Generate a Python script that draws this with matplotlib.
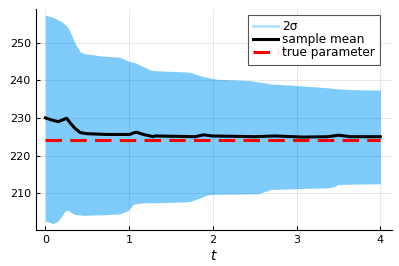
import matplotlib
matplotlib.use("Agg")
import matplotlib.pyplot as plt

# band edges (2 sigma)
band_t = [0.0, 0.096, 0.155, 0.196, 0.235, 0.255, 0.275, 0.295, 0.355, 0.415, 0.455,
          0.475, 0.57, 0.65, 0.89, 0.99, 1.05, 1.09, 1.13, 1.17, 1.27, 1.45, 1.69,
          1.73, 1.85, 1.93, 2.01, 2.03, 2.45, 2.53, 2.65, 2.69, 3.01, 3.37, 3.45,
          3.49, 3.69, 4.0]
band_upper = [257.3, 256.7, 256.0, 255.6, 254.8, 254.4, 253.8, 252.9, 249.8, 247.6, 247.2,
              247.0, 246.8, 246.5, 246.1, 245.1, 244.8, 244.5, 244.0, 243.6, 242.6, 242.4, 242.2,
              242.1, 241.2, 240.8, 240.4, 240.3, 239.9, 239.6, 239.2, 239.0, 238.6, 238.0, 237.8,
              237.7, 237.5, 237.4]
band_lower = [202.6, 201.9, 202.6, 203.9, 205.2, 205.4, 205.4, 205.0, 204.3, 204.2, 204.1,
              204.1, 204.2, 204.2, 204.5, 205.4, 207.0, 207.2, 207.35, 207.4, 207.45, 207.5, 207.7,
              207.8, 208.75, 209.5, 209.7, 209.7, 209.8, 209.8, 210.6, 210.95, 211.2, 211.4, 211.7,
              212.3, 212.4, 212.5]

# sample mean
mean_t = [0.0, 0.096, 0.155, 0.255, 0.295, 0.355, 0.415, 0.495, 0.73, 1.01, 1.05, 1.09,
          1.17, 1.29, 1.31, 1.79, 1.89, 1.99, 2.5, 2.74, 3.08, 3.38, 3.5, 3.64, 4.0]
mean_vals = [230.0, 229.3, 229.0, 229.9, 228.7, 227.2, 226.1, 225.8, 225.6, 225.6, 226.0, 226.2,
             225.6, 225.0, 225.2, 225.0, 225.5, 225.2, 225.0, 225.2, 224.9, 225.0, 225.4, 225.0, 225.0]

true_t = [0.0, 4.0]
true_vals = [224.1, 224.1]

plt.rcParams["font.family"] = "DejaVu Sans"

fig = plt.figure(figsize=(3.99, 2.66), dpi=100)
ax = fig.add_axes([0.0895, 0.1353, 0.892, 0.8317])

ax.fill_between(band_t, band_lower, band_upper, color="#009AFA", alpha=0.5,
                linewidth=0)
ax.plot([], [], color="#009AFA", alpha=0.3, linewidth=2, label="2σ")
ax.plot(mean_t, mean_vals, color="black", linewidth=2.2, label="sample mean")
ax.plot(true_t, true_vals, color="red", linewidth=2.2, dashes=(5.4, 2.7),
        label="true parameter")

ax.set_xlim(-0.115, 4.136)
ax.set_ylim(200.2, 259.0)
ax.set_xticks([0, 1, 2, 3, 4])
ax.set_yticks([210, 220, 230, 240, 250])
ax.grid(True, color="black", alpha=0.1, linewidth=0.6)
ax.tick_params(direction="in", length=3, labelsize=8, colors="black")
for side in ["top", "right"]:
    ax.spines[side].set_visible(False)
ax.set_xlabel("$t$", fontsize=10, labelpad=3)

leg = ax.legend(loc="upper right", bbox_to_anchor=(0.967, 0.972), fontsize=8.7,
                fancybox=False, framealpha=1, edgecolor="#555555",
                handlelength=2.07, handletextpad=0.28, borderpad=0.45,
                labelspacing=0.0, borderaxespad=0)
leg.get_frame().set_linewidth(0.8)

fig.savefig("out.png", dpi=100)
